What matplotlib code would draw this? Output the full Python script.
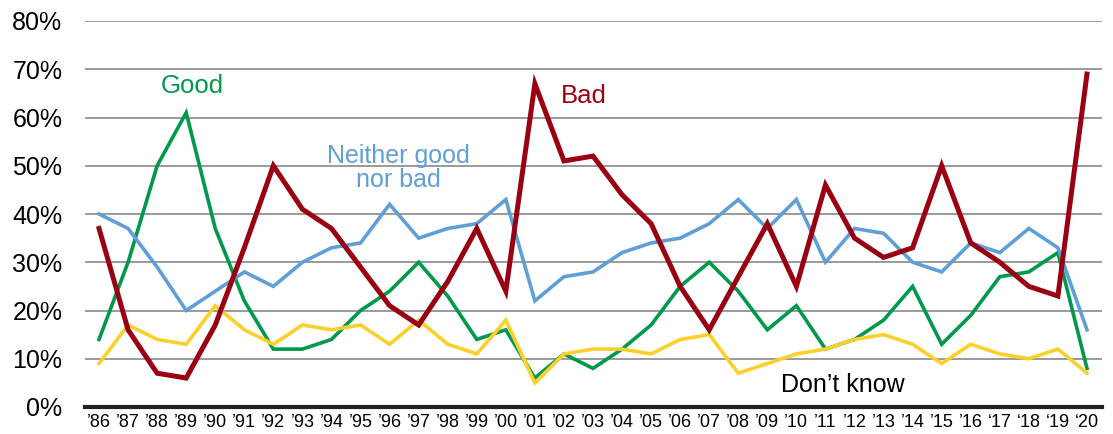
import matplotlib.pyplot as plt
import numpy as np

plt.rcParams['font.family'] = ['Liberation Sans', 'DejaVu Sans']

# survey years and their axis labels
years = ["’86", "’87", "’88", "’89", "’90", "’91", "’92", "’93", "’94", "’95",
         "’96", "’97", "’98", "’99", "’00", "’01", "’02", "’03", "’04", "’05",
         "’06", "’07", "’08", "’09", "’10", "’11", "’12", "’13", "’14", "’15",
         "’16", "‘17", "‘18", "‘19", "‘20"]

good = [14, 30, 50, 61, 37, 22, 12, 12, 14, 20, 24, 30, 23, 14, 16, 6, 11, 8,
        12, 17, 25, 30, 24, 16, 21, 12, 14, 18, 25, 13, 19, 27, 28, 32, 8]
bad = [37, 16, 7, 6, 17, 33, 50, 41, 37, 29, 21, 17, 26, 37, 24, 67, 51, 52,
       44, 38, 25, 16, 27, 38, 25, 46, 35, 31, 33, 50, 34, 30, 25, 23, 69]
neither = [40, 37, 29, 20, 24, 28, 25, 30, 33, 34, 42, 35, 37, 38, 43, 22, 27,
           28, 32, 34, 35, 38, 43, 37, 43, 30, 37, 36, 30, 28, 34, 32, 37, 33, 16]
dont_know = [9, 17, 14, 13, 21, 16, 13, 17, 16, 17, 13, 18, 13, 11, 18, 5, 11,
             12, 12, 11, 14, 15, 7, 9, 11, 12, 14, 15, 13, 9, 13, 11, 10, 12, 7]

c_good = "#00994C"
c_bad = "#990012"
c_neither = "#5F9ED6"
c_dk = "#FCD02A"

fig = plt.figure(figsize=(11.13, 4.34), dpi=100)
ax = fig.add_axes([84.5 / 1113, 27 / 434, 1017 / 1113, 386 / 434])

x = np.arange(len(years))
ax.plot(x, good, color=c_good, lw=2.6, solid_joinstyle='miter', zorder=3)
ax.plot(x, neither, color=c_neither, lw=2.6, solid_joinstyle='miter', zorder=3)
ax.plot(x, dont_know, color=c_dk, lw=2.6, solid_joinstyle='miter', zorder=4)
ax.plot(x, bad, color=c_bad, lw=3.6, solid_joinstyle='miter', zorder=5)

ax.set_xlim(-0.5, len(years) - 0.5)
ax.set_ylim(0, 80)
ax.set_yticks(range(0, 81, 10))
ax.set_yticklabels([f"{v}%" for v in range(0, 81, 10)], fontsize=18)
ax.set_xticks(x)
ax.set_xticklabels(years, fontsize=13)
ax.tick_params(axis='both', length=0)
ax.tick_params(axis='y', pad=16)
ax.tick_params(axis='x', pad=5)

for v in range(10, 81, 10):
    ax.axhline(v, color="#7f7f7f", lw=1.1, zorder=1)

for s in ['top', 'right', 'left']:
    ax.spines[s].set_visible(False)
ax.spines['bottom'].set_color('#222222')
ax.spines['bottom'].set_linewidth(3)

# series labels
ax.text(3.2, 66.5, "Good", color=c_good, fontsize=18.5, ha='center', va='center')
ax.text(16.7, 64.5, "Bad", color=c_bad, fontsize=18.5, ha='center', va='center')
ax.text(10.3, 49.5, "Neither good\nnor bad", color=c_neither, fontsize=18,
        ha='center', va='center', linespacing=1.0)
ax.text(25.6, 4.6, "Don’t know", color="black", fontsize=18,
        ha='center', va='center')

fig.savefig("out.png", dpi=100)
